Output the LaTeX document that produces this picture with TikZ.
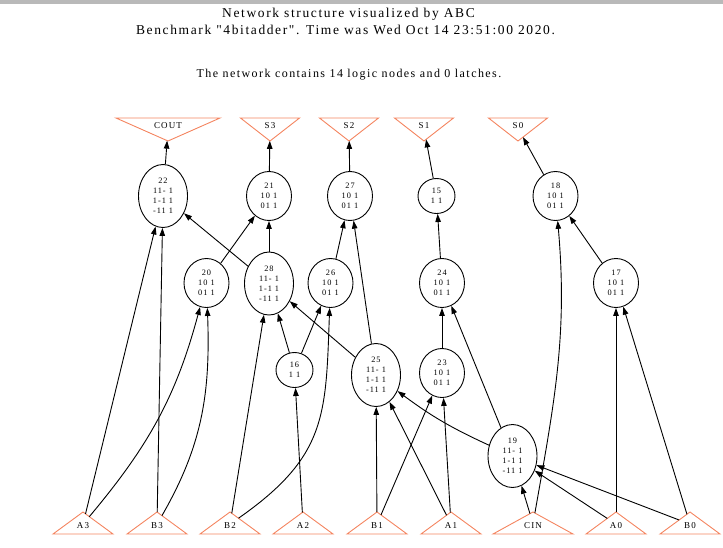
\documentclass[tikz,border=0pt]{standalone}
\usepackage{fontspec}
\newfontfamily\abcfont{Liberation Serif}[LetterSpace=12]
\usetikzlibrary{shapes.geometric,arrows.meta}
\definecolor{pio}{HTML}{F4845F}
\begin{document}
\begin{tikzpicture}[x=1pt,y=-1pt,
  logic/.style={draw, ellipse, line width=0.9pt, inner sep=0pt, align=center,
    font=\abcfont\fontsize{8.3}{10}\selectfont},
  big/.style={logic, minimum width=49pt, minimum height=63pt},
  mid/.style={logic, minimum width=45pt, minimum height=49pt},
  tiny/.style={logic, minimum width=37pt, minimum height=35pt},
  inpin/.style={draw=pio, line width=0.9pt, isosceles triangle, shape border rotate=90,
    isosceles triangle stretches, minimum width=#1, minimum height=22pt,
    inner sep=0pt, outer sep=0pt, anchor=apex},
  inpin/.default=60pt,
  outpin/.style={draw=pio, line width=0.9pt, isosceles triangle, shape border rotate=270,
    isosceles triangle stretches, minimum width=#1, minimum height=23pt,
    inner sep=0pt, outer sep=0pt, anchor=apex},
  outpin/.default=59pt,
  pinlabel/.style={inner sep=0pt, font=\abcfont\fontsize{9}{10}\selectfont},
  title/.style={inner sep=0pt, font=\abcfont\fontsize{13.5}{15}\selectfont},
  subtitle/.style={inner sep=0pt, font=\abcfont\fontsize{12}{14}\selectfont},
  arr/.style={-{Triangle[length=8pt,width=5.5pt]}, line width=0.9pt}]

\useasboundingbox (0,0) rectangle (723,547);
\fill[gray!55] (0,0) rectangle (723,3.5);

% header text
\node[title] (t1) at (348.5,14) {Network structure visualized by ABC};
\node[title] (t2) at (345.5,30) {Benchmark "4bitadder". Time was Wed Oct 14 23:51:00 2020.};
\node[subtitle] (t3) at (349,75) {The network contains 14 logic nodes and 0 latches.};

% primary outputs
\node[outpin=104pt] (COUT) at (168,141) {};
\node[pinlabel] (COUT-l) at (168,126) {COUT};
\node[outpin] (S3) at (270,141) {};
\node[pinlabel] (S3-l) at (270,126) {S3};
\node[outpin] (S2) at (349,141) {};
\node[pinlabel] (S2-l) at (349,126) {S2};
\node[outpin] (S1) at (424,141) {};
\node[pinlabel] (S1-l) at (424,126) {S1};
\node[outpin] (S0) at (518,141) {};
\node[pinlabel] (S0-l) at (518,126) {S0};

% primary inputs
\foreach \nm/\x/\w in {A3/83/60pt, B3/157/60pt, B2/230/60pt, A2/303/60pt, B1/377/60pt,
    A1/451/60pt, CIN/533/80pt, A0/616/60pt, B0/690/60pt} {
  \node[inpin=\w] (\nm) at (\x,512) {};
  \node[pinlabel] (\nm-l) at (\x,526) {\nm};
}

% logic nodes
\node[big] (n22) at (163,196) {22\\11- 1\\1-1 1\\-11 1};
\node[mid] (n21) at (269,196) {21\\10 1\\01 1};
\node[mid] (n27) at (350,196) {27\\10 1\\01 1};
\node[tiny] (n15) at (436.5,196) {15\\1 1};
\node[mid] (n18) at (555.5,196) {18\\10 1\\01 1};
\node[mid] (n20) at (206.5,283) {20\\10 1\\01 1};
\node[big] (n28) at (269,283.5) {28\\11- 1\\1-1 1\\-11 1};
\node[mid] (n26) at (330.5,283) {26\\10 1\\01 1};
\node[mid] (n24) at (442,283) {24\\10 1\\01 1};
\node[mid] (n17) at (616,283) {17\\10 1\\01 1};
\node[tiny] (n16) at (294.5,370) {16\\1 1};
\node[big] (n25) at (376,375) {25\\11- 1\\1-1 1\\-11 1};
\node[mid] (n23) at (442,373) {23\\10 1\\01 1};
\node[big] (n19) at (512.5,456) {19\\11- 1\\1-1 1\\-11 1};

% connections
\draw[arr] (n22) -- (COUT);
\draw[arr] (n21) -- (S3);
\draw[arr] (n27) -- (S2);
\draw[arr] (n15) -- (S1);
\draw[arr] (n18) -- (S0);

\draw[arr] (n28) -- (n22);
\draw[arr] (A3) -- (n22);
\draw[arr] (B3) -- (n22);
\draw[arr] (n20) -- (n21);
\draw[arr] (n28) -- (n21);
\draw[arr] (n26) -- (n27);
\draw[arr] (n25) -- (n27);
\draw[arr] (n24) -- (n15);
\draw[arr] (n17) -- (n18);
\draw[arr] (CIN) to[out=80,in=-85] (n18);

\draw[arr] (A3) to[out=50,in=-105] (n20);
\draw[arr] (B3) to[out=60,in=-88] (n20);
\draw[arr] (B2) -- (n28);
\draw[arr] (n16) -- (n28);
\draw[arr] (n25) -- (n28);
\draw[arr] (n16) -- (n26);
\draw[arr] (B2) to[out=35,in=-92,looseness=1.2] (n26);
\draw[arr] (n23) -- (n24);
\draw[arr] (n19) -- (n24);
\draw[arr] (A0) -- (n17);
\draw[arr] (B0) -- (n17);

\draw[arr] (A2) -- (n16);
\draw[arr] (B1) -- (n25);
\draw[arr] (A1) -- (n25);
\draw[arr] (n19) to[bend left=6] (n25);
\draw[arr] (B1) -- (n23);
\draw[arr] (A1) -- (n23);

\draw[arr] (CIN) -- (n19);
\draw[arr] (A0) -- (n19);
\draw[arr] (B0) -- (n19);
\end{tikzpicture}
\end{document}
